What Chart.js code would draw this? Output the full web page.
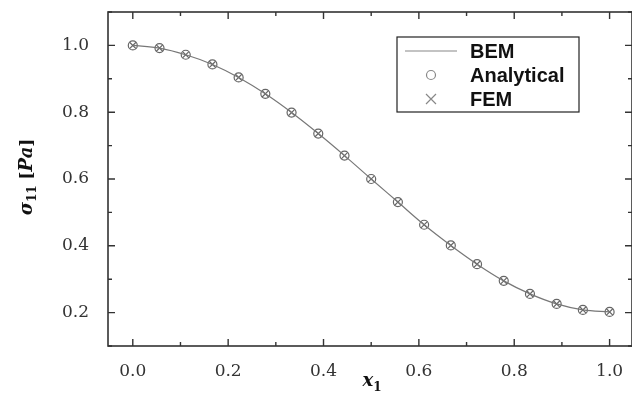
<!DOCTYPE html>
<html>
<head>
<meta charset="utf-8">
<title>sigma11 along x1</title>
<script src="https://cdn.jsdelivr.net/npm/chart.js@4.4.1/dist/chart.umd.min.js"></script>
<style>
  html, body { margin: 0; padding: 0; background: #fff; }
  #wrap { width: 632px; height: 395px; }
</style>
</head>
<body>
<div id="wrap"><canvas id="stressChart" width="632" height="395"></canvas></div>
<script>
// puntos de muestreo a lo largo de x1
var xPoints = [0.000, 0.056, 0.111, 0.167, 0.222, 0.278, 0.333, 0.389, 0.444, 0.500,
               0.556, 0.611, 0.667, 0.722, 0.778, 0.833, 0.889, 0.944, 1.000];
// tension sigma11 (BEM, analitica y FEM coinciden)
var bemValues = [1.000, 0.992, 0.972, 0.943, 0.904, 0.855, 0.799, 0.736, 0.670, 0.600,
                 0.531, 0.463, 0.401, 0.345, 0.295, 0.256, 0.226, 0.208, 0.202];
var analyticalValues = [1.000, 0.992, 0.972, 0.943, 0.904, 0.855, 0.799, 0.736, 0.670, 0.600,
                        0.531, 0.463, 0.401, 0.345, 0.295, 0.256, 0.226, 0.208, 0.202];
var femValues = [1.000, 0.992, 0.972, 0.943, 0.904, 0.855, 0.799, 0.736, 0.670, 0.600,
                 0.531, 0.463, 0.401, 0.345, 0.295, 0.256, 0.226, 0.208, 0.202];
var seriesNames = ['BEM', 'Analytical', 'FEM'];
var xTicks = [0.0, 0.1, 0.2, 0.3, 0.4, 0.5, 0.6, 0.7, 0.8, 0.9, 1.0];
var yTicks = [0.1, 0.2, 0.3, 0.4, 0.5, 0.6, 0.7, 0.8, 0.9, 1.0, 1.1];
var xTickLabels = ['0.0', '0.2', '0.4', '0.6', '0.8', '1.0'];
var yTickLabels = ['0.2', '0.4', '0.6', '0.8', '1.0'];

function toPoints(xs, ys) {
    return xs.map(function(x, i) { return { x: x, y: ys[i] }; });
}

function tickLabel(value, labels) {
    var txt = value.toFixed(1);
    return labels.indexOf(txt) >= 0 ? txt : '';
}

var frameColor = '#333333';

// marco con marcas hacia dentro en los cuatro lados
var framePlugin = {
    id: 'frame',
    afterDraw: function(chart) {
        var ctx = chart.ctx;
        var a = chart.chartArea;
        var xs = chart.scales.x, ys = chart.scales.y;
        ctx.save();
        ctx.strokeStyle = frameColor;
        ctx.lineWidth = 1.6;
        ctx.strokeRect(a.left, a.top, a.right - a.left, a.bottom - a.top);
        ctx.lineWidth = 1.4;
        ctx.beginPath();
        xTicks.forEach(function(v) {
            var px = xs.getPixelForValue(v);
            var len = tickLabel(v, xTickLabels) ? 7 : 4;
            ctx.moveTo(px, a.bottom); ctx.lineTo(px, a.bottom - len);
            ctx.moveTo(px, a.top); ctx.lineTo(px, a.top + len);
        });
        yTicks.forEach(function(v) {
            var py = ys.getPixelForValue(v);
            var len = tickLabel(v, yTickLabels) ? 7 : 4;
            ctx.moveTo(a.left, py); ctx.lineTo(a.left + len, py);
            ctx.moveTo(a.right, py); ctx.lineTo(a.right - len, py);
        });
        ctx.stroke();

        // titulos de ejes con subindices
        ctx.fillStyle = '#111';
        ctx.textBaseline = 'alphabetic';
        var big = 'bold italic 18px "DejaVu Serif"';
        var upright = 'bold 17px "DejaVu Serif"';
        var small = 'bold 12px "DejaVu Serif"';
        // x1
        ctx.font = big;
        var wX = ctx.measureText('x').width;
        ctx.font = small;
        var w1 = ctx.measureText('1').width;
        var startX = 372 - (wX + w1) / 2;
        ctx.font = big; ctx.fillText('x', startX, 386);
        ctx.font = small; ctx.fillText('1', startX + wX, 391);
        // sigma11 [Pa], girado
        ctx.save();
        ctx.translate(32, 177);
        ctx.rotate(-Math.PI / 2);
        var parts = [
            { t: 'σ', f: big, dy: 0 },
            { t: '11', f: small, dy: 4 },
            { t: ' [', f: upright, dy: 0 },
            { t: 'Pa', f: big, dy: 0 },
            { t: ']', f: upright, dy: 0 }
        ];
        var total = 0;
        parts.forEach(function(p) { ctx.font = p.f; p.w = ctx.measureText(p.t).width; total += p.w; });
        var sx = -total / 2;
        parts.forEach(function(p) {
            ctx.font = p.f;
            ctx.fillText(p.t, sx, p.dy);
            sx += p.w;
        });
        ctx.restore();

        // leyenda dentro del area
        var lx = 397, ly = 37, lw = 182, lh = 75;
        ctx.fillStyle = '#fff';
        ctx.fillRect(lx, ly, lw, lh);
        ctx.strokeStyle = '#222';
        ctx.lineWidth = 1.2;
        ctx.strokeRect(lx, ly, lw, lh);
        var rows = [51, 75, 99];
        ctx.strokeStyle = '#888';
        ctx.lineWidth = 1.2;
        ctx.beginPath();
        ctx.moveTo(405, rows[0]); ctx.lineTo(457, rows[0]);
        ctx.stroke();
        ctx.beginPath();
        ctx.arc(431, rows[1], 4.5, 0, Math.PI * 2);
        ctx.stroke();
        ctx.beginPath();
        ctx.moveTo(426, rows[2] - 5); ctx.lineTo(436, rows[2] + 5);
        ctx.moveTo(436, rows[2] - 5); ctx.lineTo(426, rows[2] + 5);
        ctx.stroke();
        ctx.fillStyle = '#111';
        ctx.font = 'bold 20px "Liberation Sans"';
        ctx.textBaseline = 'middle';
        seriesNames.forEach(function(name, i) {
            ctx.fillText(name, 470, rows[i] + 1);
        });
        ctx.restore();
    }
};

var ctx = document.getElementById('stressChart').getContext('2d');
new Chart(ctx, {
    type: 'scatter',
    data: {
        datasets: [{
            label: seriesNames[0],
            data: toPoints(xPoints, bemValues),
            showLine: true,
            pointRadius: 0,
            borderColor: '#777777',
            borderWidth: 1.2,
            cubicInterpolationMode: 'monotone'
        }, {
            label: seriesNames[1],
            data: toPoints(xPoints, analyticalValues),
            pointStyle: 'circle',
            pointRadius: 4.5,
            pointBorderWidth: 1.2,
            borderColor: '#666666',
            backgroundColor: 'rgba(255,255,255,0)'
        }, {
            label: seriesNames[2],
            data: toPoints(xPoints, femValues),
            pointStyle: 'crossRot',
            pointRadius: 4.5,
            pointBorderWidth: 1.2,
            borderColor: '#666666'
        }]
    },
    options: {
        responsive: false,
        animation: false,
        layout: { autoPadding: false, padding: { top: 12, right: -1, left: 0, bottom: 0 } },
        plugins: {
            legend: { display: false },
            tooltip: { enabled: false }
        },
        scales: {
            x: {
                type: 'linear',
                min: -0.052,
                max: 1.047,
                afterBuildTicks: function(scale) {
                    scale.ticks = xTicks.map(function(v) { return { value: v }; });
                },
                afterFit: function(scale) {
                    scale.height = 49;
                    scale.paddingLeft = 0;
                    scale.paddingRight = 0;
                },
                grid: { display: false },
                border: { display: false },
                ticks: {
                    autoSkip: false,
                    maxRotation: 0,
                    color: '#333',
                    padding: 7,
                    font: { family: '"DejaVu Serif"', size: 17 },
                    callback: function(v) { return tickLabel(v, xTickLabels); }
                }
            },
            y: {
                type: 'linear',
                min: 0.1,
                max: 1.1,
                afterBuildTicks: function(scale) {
                    scale.ticks = yTicks.map(function(v) { return { value: v }; });
                },
                afterFit: function(scale) {
                    scale.width = 108;
                    scale.paddingTop = 0;
                    scale.paddingBottom = 0;
                },
                grid: { display: false },
                border: { display: false },
                ticks: {
                    autoSkip: false,
                    color: '#333',
                    padding: 11,
                    font: { family: '"DejaVu Serif"', size: 17 },
                    callback: function(v) { return tickLabel(v, yTickLabels); }
                }
            }
        }
    },
    plugins: [framePlugin]
});
</script>
</body>
</html>
